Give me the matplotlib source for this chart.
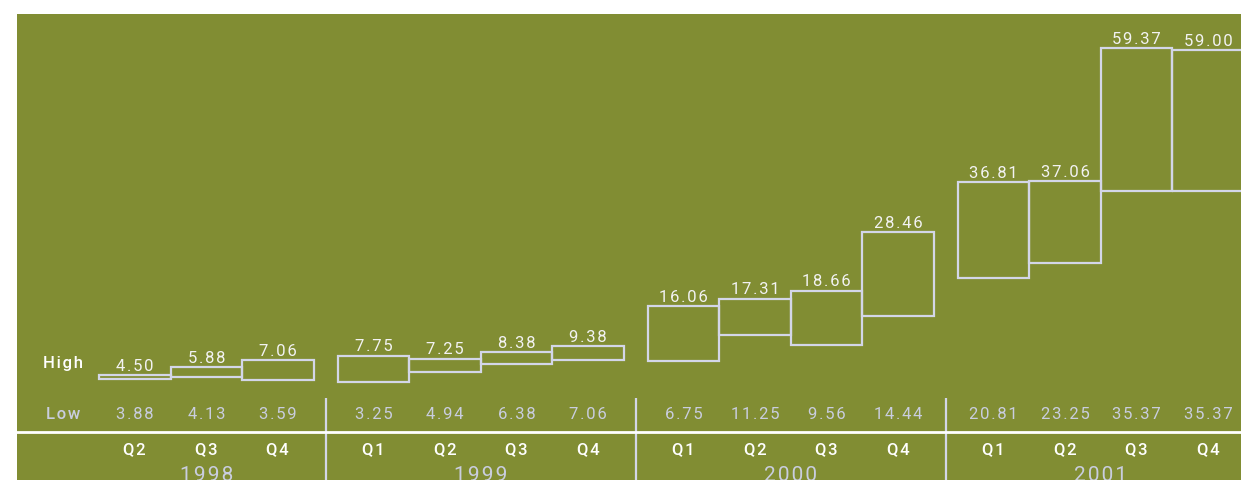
import matplotlib
matplotlib.use('Agg')
import matplotlib.pyplot as plt
from matplotlib.patches import Rectangle

plt.rcParams['font.family'] = ['Roboto', 'DejaVu Sans']

# quarterly trading ranges
years = ['1998', '1999', '2000', '2001']
quarters = [['Q2', 'Q3', 'Q4'],
            ['Q1', 'Q2', 'Q3', 'Q4'],
            ['Q1', 'Q2', 'Q3', 'Q4'],
            ['Q1', 'Q2', 'Q3', 'Q4']]
highs = [[4.50, 5.88, 7.06],
         [7.75, 7.25, 8.38, 9.38],
         [16.06, 17.31, 18.66, 28.46],
         [36.81, 37.06, 59.37, 59.00]]
lows = [[3.88, 4.13, 3.59],
        [3.25, 4.94, 6.38, 7.06],
        [6.75, 11.25, 9.56, 14.44],
        [20.81, 23.25, 35.37, 35.37]]

BG = '#818D33'
EDGE = '#D3D6E8'
LIGHT = '#C9CDDF'
GAP = 0.336
FAM = ['Roboto', 'DejaVu Sans']


def spaced(s):
    # the original uses loose letter spacing
    return '\u200a'.join(s)


W, H = 1241, 481
fig = plt.figure(figsize=(W / 100, H / 100), dpi=100)
fig.patch.set_facecolor('white')
ax = fig.add_axes([17 / W, 0, (W - 17) / W, (H - 15) / H])
ax.set_facecolor(BG)
ax.set_xlim(-1.147, 15.97)
ax.set_ylim(-13.14, 65.07)
ax.axis('off')
ax.add_patch(Rectangle((0, 0), 1, 1, transform=ax.transAxes, facecolor=BG,
                       edgecolor='none', zorder=0))

y_low, y_line, y_q, y_year = -1.9, -5.1, -7.95, -12.3

x = 0.0
for yi, year in enumerate(years):
    start = x
    for qi, q in enumerate(quarters[yi]):
        hi, lo = highs[yi][qi], lows[yi][qi]
        ax.add_patch(Rectangle((x, lo), 1, hi - lo, facecolor='none',
                               edgecolor=EDGE, linewidth=1.6, zorder=3))
        ax.annotate(spaced(f'{hi:.2f}'), (x + 0.5, hi), xytext=(0, 1.5),
                    textcoords='offset points', ha='center', va='bottom',
                    fontsize=12, color='#F2F2F2', family=FAM)
        ax.text(x + 0.5, y_low, spaced(f'{lo:.2f}'), ha='center', va='center',
                fontsize=12, color=LIGHT, family=FAM)
        ax.text(x + 0.5, y_q, spaced(q), ha='center', va='center', fontsize=12,
                color='white', fontweight='medium', family=FAM)
        x += 1
    ax.text((start + x) / 2, y_year, spaced(year), ha='center', va='center',
            fontsize=15, color=LIGHT, family=FAM)
    if yi < len(years) - 1:
        ax.plot([x + GAP / 2] * 2, [0.62, -13.14], color=EDGE, lw=1.6,
                solid_capstyle='butt', zorder=2)
    x += GAP

ax.plot([-1.147, 15.97], [y_line, y_line], color='white', lw=2, zorder=2)
ax.text(-0.5, 6.5, spaced('High'), ha='center', va='center', fontsize=12,
        color='white', fontweight='medium', family=FAM)
ax.text(-0.5, y_low, spaced('Low'), ha='center', va='center', fontsize=12,
        color=LIGHT, fontweight='medium', family=FAM)

fig.savefig('out.png', dpi=100, facecolor='white')
